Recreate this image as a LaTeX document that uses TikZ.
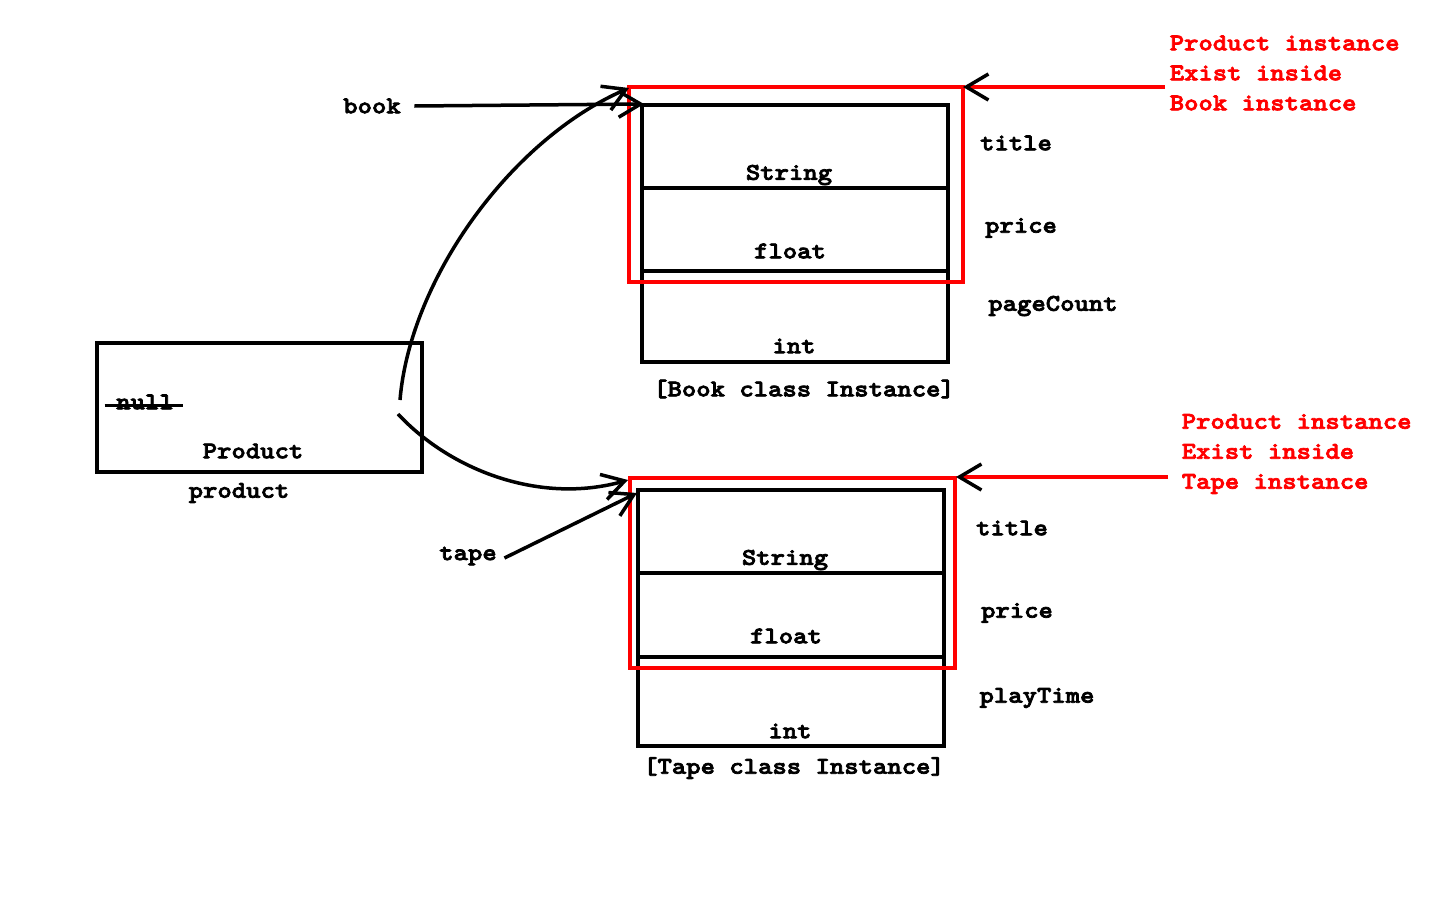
\documentclass[tikz,border=0pt]{standalone}
\usepackage{fontspec}
\newfontfamily\cour{lmmonolt10-bold.otf}[FakeStretch=1.14,FakeBold=3]
\usetikzlibrary{arrows.meta}
\tikzset{lbl/.style={font=\cour\fontsize{24}{30}\selectfont,inner sep=0pt},
note/.style={lbl,text=red,align=left,anchor=west},
redarrow/.style={red,-{Straight Barb[length=22pt,width=26pt,black]}}}

\begin{document}
\begin{tikzpicture}[x=1pt,y=-1pt,line width=3.5pt,>={Straight Barb[length=22pt,width=26pt]}]
\useasboundingbox[fill=white](0,0)rectangle(1440,900);
% product reference
\draw(97,343)rectangle(422,472);
\node[lbl](nul)at(145,402){null};
\draw[line width=3pt]([xshift=-10pt,yshift=-3pt]nul.west)--([xshift=8pt,yshift=-3pt]nul.east);
\node[lbl](ptype)at(253,451){Product};
\node[lbl](pvar)at(239,493){product};
\coordinate(pup)at(400,400);\coordinate(pdown)at(398,414);
% book instance
\draw(642,105)rectangle(948,362)(642,188)--(948,188)(642,271)--(948,271);
\draw[red](629,87)rectangle(963,282);
\node[lbl](bs)at(789,175){String};\node[lbl](bf)at(790,251){float};\node[lbl](bi)at(794,346){int};
\node[lbl](bt)at(1016,143){title};\node[lbl](bp)at(1021,228){price};\node[lbl](bc)at(1053,306){pageCount};
\node[lbl](bname)at(804,389){[Book class Instance]};
\coordinate(btip)at(644,104);\coordinate(bred)at(629,88);\coordinate(bredr)at(963,87);
% tape instance
\draw(638,490)rectangle(944,746)(638,573)--(944,573)(638,657)--(944,657);
\draw[red](630,478)rectangle(955,668);
\node[lbl](ts)at(785,560){String};\node[lbl](tf)at(786,636){float};\node[lbl](ti)at(790,731){int};
\node[lbl](tt)at(1012,528){title};\node[lbl](tp)at(1017,613){price};\node[lbl](tc)at(1037,698){playTime};
\node[lbl](tname)at(794,768){[Tape class Instance]};
\coordinate(ttip)at(637,493);\coordinate(tred)at(628,480);\coordinate(tredr)at(956,477);
% variables
\node[lbl](book)at(372,106){book};
\node[lbl](tape)at(468,556){tape};
\draw[->]([xshift=12pt]book.east)--(btip);
\draw[->]([xshift=6pt,yshift=-2pt]tape.east)--(ttip);
\draw[->](pup)..controls(410,280)and(510,140)..(bred);
\draw[->](pdown)..controls(450,470)and(540,505)..(tred);
% notes
\node[note](bnote)at(1168,73){Product instance\\Exist inside\\Book instance};
\node[note](tnote)at(1180,454){Product instance\\Exist inside\\Tape instance};
\draw[redarrow]([xshift=-3pt]bnote.west|-bredr)--(bredr);
\draw[redarrow]([xshift=-12pt]tnote.west|-tredr)--(tredr);
\end{tikzpicture}
\end{document}
